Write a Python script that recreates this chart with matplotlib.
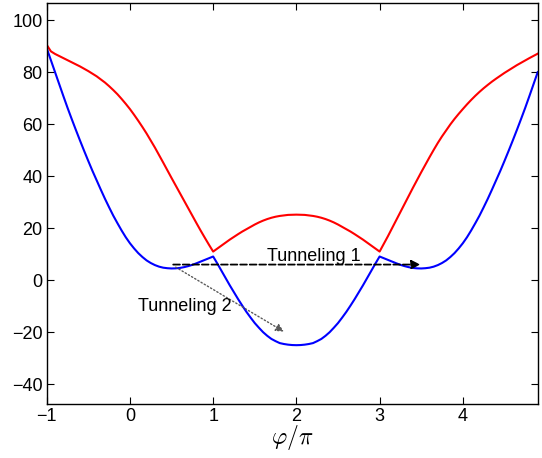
import matplotlib
matplotlib.use("Agg")
import matplotlib.pyplot as plt

plt.rcParams['font.family'] = ['Liberation Sans', 'DejaVu Sans']
plt.rcParams['mathtext.fontset'] = 'cm'

# phase in units of pi, read every 0.05
phi = [-1.0, -0.95, -0.9, -0.85, -0.8, -0.75, -0.7, -0.65, -0.6, -0.55,
       -0.5, -0.45, -0.4, -0.35, -0.3, -0.25, -0.2, -0.15, -0.1, -0.05,
       0.0, 0.05, 0.1, 0.15, 0.2, 0.25, 0.3, 0.35, 0.4, 0.45,
       0.5, 0.55, 0.6, 0.65, 0.7, 0.75, 0.8, 0.85, 0.9, 0.95,
       1.0, 1.05, 1.1, 1.15, 1.2, 1.25, 1.3, 1.35, 1.4, 1.45,
       1.5, 1.55, 1.6, 1.65, 1.7, 1.75, 1.8, 1.85, 1.9, 1.95,
       2.0, 2.05, 2.1, 2.15, 2.2, 2.25, 2.3, 2.35, 2.4, 2.45,
       2.5, 2.55, 2.6, 2.65, 2.7, 2.75, 2.8, 2.85, 2.9, 2.95,
       3.0, 3.05, 3.1, 3.15, 3.2, 3.25, 3.3, 3.35, 3.4, 3.45,
       3.5, 3.55, 3.6, 3.65, 3.7, 3.75, 3.8, 3.85, 3.9, 3.95,
       4.0, 4.05, 4.1, 4.15, 4.2, 4.25, 4.3, 4.35, 4.4, 4.45,
       4.5, 4.55, 4.6, 4.65, 4.7, 4.75, 4.8, 4.85, 4.9]

# lower band (blue)
lower = [89.2, 84.6, 80.0, 75.4, 70.8, 66.3, 62.0, 57.8, 53.7, 49.7,
         45.8, 42.0, 38.4, 34.8, 31.3, 28.0, 24.8, 21.9, 19.1, 16.5,
         14.2, 12.2, 10.4, 8.9, 7.6, 6.6, 5.8, 5.2, 4.8, 4.6,
         4.5, 4.55, 4.7, 5.0, 5.4, 5.9, 6.5, 7.15, 7.8, 8.45,
         9.1, 6.4, 3.6, 0.8, -2.0, -4.65, -7.3, -9.8, -12.2, -14.4,
         -16.5, -18.3, -20.0, -21.4, -22.6, -23.45, -24.2, -24.55, -24.8, -24.95,
         -25.0, -24.95, -24.8, -24.55, -24.2, -23.45, -22.6, -21.4, -20.0, -18.3,
         -16.5, -14.4, -12.2, -9.8, -7.3, -4.65, -2.0, 0.8, 3.6, 6.4,
         9.1, 8.45, 7.8, 7.15, 6.5, 5.9, 5.4, 5.0, 4.7, 4.55,
         4.5, 4.6, 4.8, 5.2, 5.8, 6.6, 7.6, 8.9, 10.4, 12.2,
         14.2, 16.5, 19.1, 21.9, 24.8, 28.0, 31.3, 34.8, 38.4, 42.0,
         45.8, 49.7, 53.7, 57.8, 62.0, 66.3, 70.8, 75.4, 80.0]

# upper band (red)
upper = [90.5, 88.0, 87.0, 86.2, 85.4, 84.6, 83.8, 83.0, 82.2, 81.3,
         80.4, 79.4, 78.4, 77.2, 76.0, 74.6, 73.1, 71.5, 69.7, 67.8,
         65.8, 63.6, 61.3, 58.9, 56.4, 53.7, 51.0, 48.1, 45.2, 42.25,
         39.3, 36.4, 33.5, 30.6, 27.7, 24.8, 21.9, 19.05, 16.3, 13.6,
         11.0, 12.15, 13.3, 14.45, 15.6, 16.65, 17.7, 18.7, 19.6, 20.5,
         21.4, 22.2, 22.9, 23.5, 24.0, 24.4, 24.7, 24.9, 25.1, 25.15,
         25.2, 25.15, 25.1, 24.9, 24.7, 24.4, 24.0, 23.5, 22.9, 22.2,
         21.4, 20.5, 19.6, 18.7, 17.7, 16.65, 15.6, 14.45, 13.3, 12.15,
         11.0, 13.95, 16.9, 20.0, 23.1, 26.2, 29.3, 32.4, 35.5, 38.5,
         41.5, 44.4, 47.3, 50.1, 52.8, 55.3, 57.6, 59.9, 62.0, 63.95,
         65.8, 67.6, 69.3, 70.9, 72.4, 73.8, 75.1, 76.35, 77.5, 78.6,
         79.7, 80.7, 81.7, 82.7, 83.6, 84.5, 85.4, 86.25, 87.1]

fig = plt.figure(figsize=(5.42, 4.58), dpi=100)
ax = fig.add_axes([0.0862, 0.1186, 0.9059, 0.8749])

ax.plot(phi, upper, color='red', lw=1.5)
ax.plot(phi, lower, color='blue', lw=1.5)

# tunneling arrows
ax.annotate('', xy=(3.49, 6.0), xytext=(0.52, 6.0),
            arrowprops=dict(arrowstyle='-|>', linestyle='--', color='k',
                            lw=1.3, mutation_scale=13, shrinkA=0, shrinkB=0))
ax.annotate('', xy=(1.85, -19.8), xytext=(0.55, 5.0),
            arrowprops=dict(arrowstyle='-|>', linestyle=':', color='0.35',
                            lw=1.0, mutation_scale=12, shrinkA=0, shrinkB=0))
ax.text(1.65, 7.4, 'Tunneling 1', fontsize=13, va='baseline', ha='left')
ax.text(0.10, -10.1, 'Tunneling 2', fontsize=13, va='center', ha='left')

ax.set_xlim(-1, 4.9)
ax.set_ylim(-47.5, 106.6)
ax.set_xticks([-1, 0, 1, 2, 3, 4])
ax.set_xticklabels(['\u22121', '0', '1', '2', '3', '4'])
ax.set_yticks([-40, -20, 0, 20, 40, 60, 80, 100])
ax.set_yticklabels(['\u221240', '\u221220', '0', '20', '40', '60', '80', '100'])
ax.tick_params(direction='in', top=True, right=True, labelsize=13,
               length=5, width=0.8, pad=3)
for s in ax.spines.values():
    s.set_linewidth(1.0)
ax.set_xlabel(r'$\varphi/\pi$', fontsize=17, labelpad=-1)

fig.savefig('out.png', dpi=100)
